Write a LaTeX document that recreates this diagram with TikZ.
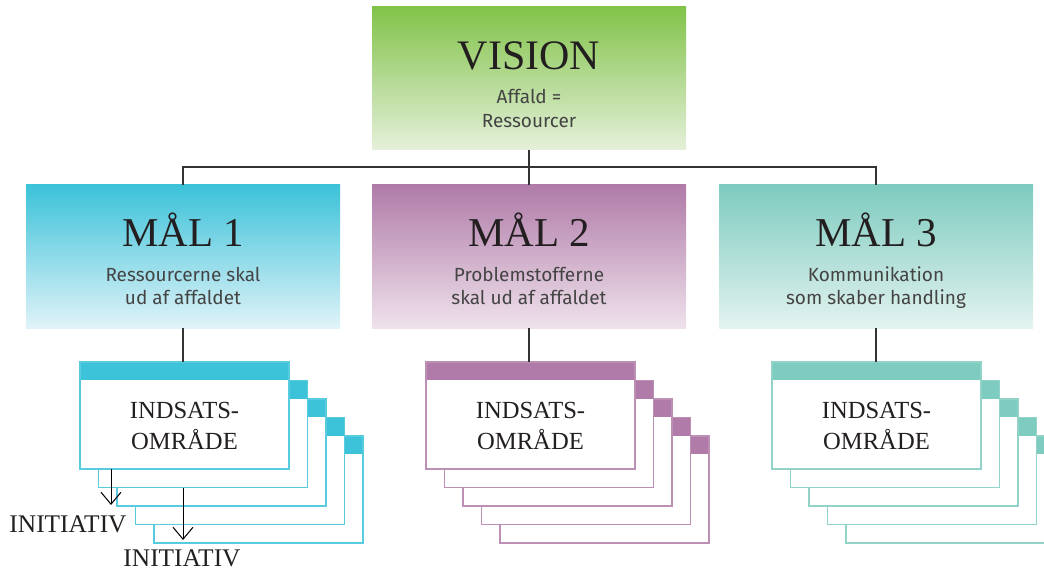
\documentclass[tikz,border=0pt]{standalone}
\usepackage{fontspec}
\setmainfont{Liberation Serif}
\newfontfamily\subfont{Fira Sans}
\usetikzlibrary{arrows.meta}
\definecolor{visT}{HTML}{82C34A}
\definecolor{visB}{HTML}{E5F0DA}
\definecolor{cyT}{HTML}{3CC2D9}
\definecolor{cyB}{HTML}{E0F3F8}
\definecolor{puT}{HTML}{B07BA8}
\definecolor{puB}{HTML}{EFE2EC}
\definecolor{teT}{HTML}{7ECBBF}
\definecolor{teB}{HTML}{E3F3F0}
\definecolor{ink}{HTML}{231F20}
\definecolor{subink}{HTML}{444444}
\definecolor{conn}{HTML}{333333}
\tikzset{
  goalbox/.style 2 args={minimum width=314pt, minimum height=143pt, inner sep=0pt, outer sep=0pt,
    top color=#1, bottom color=#2, draw=none, anchor=north west},
  card/.style={minimum width=209pt, minimum height=107pt, inner sep=0pt, outer sep=0pt,
    fill=white, draw=#1!85!white, line width=1.2pt, anchor=north west,
    path picture={\fill[#1] (path picture bounding box.north west) rectangle ([yshift=-18pt]path picture bounding box.north east);}},
  title/.style={font=\fontsize{41}{41}\selectfont, text=ink, anchor=base, inner sep=0pt},
  vistitle/.style={font=\fontsize{42}{42}\selectfont, text=ink, anchor=base, inner sep=0pt},
  subtxt/.style={font=\subfont\fontsize{19}{19}\selectfont, text=subink, anchor=base, inner sep=0pt},
  cardtxt/.style={font=\fontsize{24.6}{24.6}\selectfont, text=ink, anchor=base, inner sep=0pt},
  initxt/.style={font=\fontsize{25.4}{25.4}\selectfont, text=ink, anchor=base, inner sep=0pt},
  connector/.style={draw=conn, line width=1.3pt},
  arrowline/.style={draw=black, line width=1pt, -{Straight Barb[length=12pt,width=20pt,line width=1pt]}},
}
\begin{document}
\begin{tikzpicture}[x=1pt,y=-1pt]
\useasboundingbox (0,0) rectangle (1044,569);
\clip (0,0) rectangle (1044,569);
% top boxes
\node[goalbox={visT}{visB}] (vision) at (372,7) {};
\node[goalbox={cyT}{cyB}] (mal1) at (26,185) {};
\node[goalbox={puT}{puB}] (mal2) at (372,185) {};
\node[goalbox={teT}{teB}] (mal3) at (719,185) {};
% texts
\node[vistitle] (tv) at (529,70) {VISION};
\node[subtxt] (tv1) at (529,104) {Affald =};
\node[subtxt] (tv2) at (529,128) {Ressourcer};
\node[title] (t1) at (183,247) {MÅL 1};
\node[subtxt] (t1a) at (183,282) {Ressourcerne skal};
\node[subtxt] (t1b) at (183,305) {ud af affaldet};
\node[title] (t2) at (529,247) {MÅL 2};
\node[subtxt] (t2a) at (529,282) {Problemstofferne};
\node[subtxt] (t2b) at (529,305) {skal ud af affaldet};
\node[title] (t3) at (876,247) {MÅL 3};
\node[subtxt] (t3a) at (876,282) {Kommunikation};
\node[subtxt] (t3b) at (876,305) {som skaber handling};
% card stacks
\foreach \nm/\X/\col in {L/80/cyT, M/426/puT, R/772/teT}{
  \foreach \k in {4,3,2,1,0}{
    \node[card=\col] (\nm\k) at ({\X+18.5*\k},{362+18.5*\k}) {};
  }
  \node[cardtxt] (\nm txa) at ([yshift=-56pt]\nm0.north) {INDSATS-};
  \node[cardtxt] (\nm txb) at ([yshift=-87pt]\nm0.north) {OMRÅDE};
}
% connectors
\coordinate (bus) at (529,167);
\draw[connector] (vision.south) -- (mal2.north);
\draw[connector] (mal1.north) |- (bus) -| (mal3.north);
\draw[connector] (mal1.south) -- (mal1.south |- L0.north);
\draw[connector] (mal2.south) -- (mal2.south |- M0.north);
\draw[connector] (mal3.south) -- (mal3.south |- R0.north);
% initiativ
\node[initxt] (ini1) at (68,532) {INITIATIV};
\node[initxt] (ini2) at (182,566) {INITIATIV};
\coordinate (a1) at (111,505);
\coordinate (a2) at (183,540);
\draw[arrowline] (L0.south -| a1) -- (a1);
\draw[arrowline] (L1.south -| a2) -- (a2);
\end{tikzpicture}
\end{document}
